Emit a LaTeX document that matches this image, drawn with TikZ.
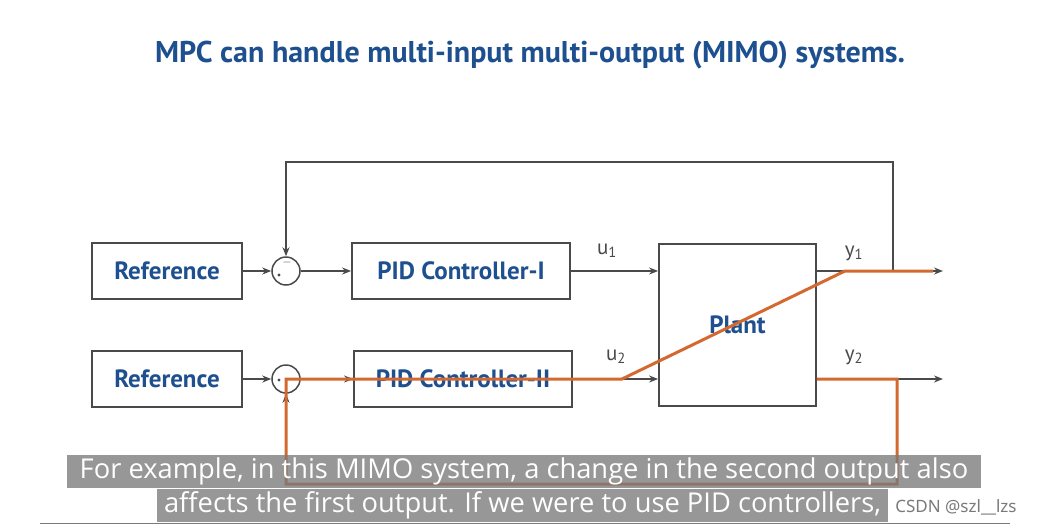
\documentclass[tikz,border=0pt]{standalone}
\usepackage{fontspec}
\setmainfont{PT Sans}
\newfontfamily\subfont{Open Sans}
\newfontfamily\wmfont{Noto Sans}
\usetikzlibrary{arrows.meta,calc}
\definecolor{ln}{HTML}{4A4A4A}
\definecolor{tb}{HTML}{1E4F8E}
\definecolor{org}{HTML}{D4692F}
\definecolor{subbg}{HTML}{7A7A7A}
\begin{document}
\begin{tikzpicture}[x=1pt,y=-1pt,
  blk/.style={draw=ln,line width=1.8pt,fill=white,inner sep=0pt,
    font=\bfseries\fontsize{25}{27}\selectfont,text=tb},
  sumc/.style={draw=ln,line width=1.5pt,circle,minimum size=28pt,inner sep=0pt,fill=white},
  sig/.style={draw=ln,line width=1.5pt,-{Stealth[length=9pt,width=7pt]}},
  hl/.style={draw=org,line width=3pt,line join=miter},
  lbl/.style={text=ln,font=\fontsize{21}{22}\selectfont},
  subbox/.style={fill=subbg,fill opacity=0.78,draw=none,inner sep=0pt},
  subtxt/.style={text=white,font=\subfont\fontsize{27.3}{29}\selectfont,inner sep=0pt}
]
\useasboundingbox (0,0) rectangle (1039,525);
\fill[white] (0,0) rectangle (1039,525);

% title
\node[text=tb,font=\bfseries\fontsize{30}{33}\selectfont] (title) at (530,55) {MPC can handle multi-input multi-output (MIMO) systems.};

% blocks
\node[blk,minimum width=150pt,minimum height=56pt] (ref1) at (167,271) {Reference};
\node[blk,minimum width=150pt,minimum height=56pt] (ref2) at (167,379) {Reference};
\node[sumc] (sum1) at (286,271) {};
\node[sumc] (sum2) at (286,379) {};
\node[blk,minimum width=218pt,minimum height=56pt] (pid1) at (461,271) {PID Controller-I};
\node[blk,minimum width=218pt,minimum height=56pt] (pid2) at (463,379) {PID Controller-II};
\node[blk,minimum width=157pt,minimum height=162pt,text opacity=0] (plant) at (737.5,325) {Plant};

% sign marks
\node[text=ln,font=\fontsize{12}{12}\selectfont,inner sep=0pt] (m1) at (287,262) {$-$};
\fill[ln] (279,275) circle (1.6pt);
\fill[ln] (279,380) circle (1.6pt);

\coordinate (o1) at (943,271);
\coordinate (o2) at (943,379);
\coordinate (f1) at (893,271);
\coordinate (t1) at (893,162);
\coordinate (t0) at (286,162);
\coordinate (f2) at (897,379);
\coordinate (b2) at (897,484);
\coordinate (b0) at (286,484);

% signal lines
\draw[sig] (ref1.east) -- (sum1.west);
\draw[sig] (ref2.east) -- (sum2.west);
\draw[sig] (sum1.east) -- (pid1.west);
\draw[sig] (sum2.east) -- (pid2.west);
\draw[sig] (pid1.east) -- (plant.west |- pid1.east);
\draw[sig] (pid2.east) -- (plant.west |- pid2.east);
\draw[sig] (plant.east |- o1) -- (o1);
\draw[sig] (plant.east |- o2) -- (o2);
\draw[sig] (f1) -- (t1) -- (t0) -- (sum1.north);
\draw[sig] (f2) -- (b2) -- (b0) -- (sum2.south);

% labels
\node[lbl] (u1) at (607,251) {u\textsubscript{1}};
\node[lbl] (u2) at (616,357) {u\textsubscript{2}};
\node[lbl] (y1) at (854,253) {y\textsubscript{1}};
\node[lbl] (y2) at (854,357) {y\textsubscript{2}};

% plant text
\node[text=tb,font=\bfseries\fontsize{25}{27}\selectfont] (pt) at (plant.center) {Plant};

% highlighted path
\coordinate (k1) at (622,379);
\coordinate (k2) at (845,271);
\coordinate (e1) at (933,271);
\draw[hl] (plant.east |- o2) -- (f2) -- (b2) -- (b0) -- (sum2.center) -- (k1) -- (k2) -- (e1);

% subtitles
\fill[subbox] (67,455) rectangle (981,488);
\fill[subbox] (157,489) rectangle (888,522);
\node[subtxt] (s1) at (524,471.5) {For example, in this MIMO system, a change in the second output also};
\node[subtxt] (s2) at (522.5,505.5) {affects the first output. If we were to use PID controllers,};
\node[text=subbg,font=\wmfont\fontsize{17}{18}\selectfont,inner sep=0pt] (wm) at (956,507) {CSDN @szl\_\_lzs};
\draw[subbg,line width=1pt] (40,523) -- (1010,523);
\end{tikzpicture}
\end{document}
